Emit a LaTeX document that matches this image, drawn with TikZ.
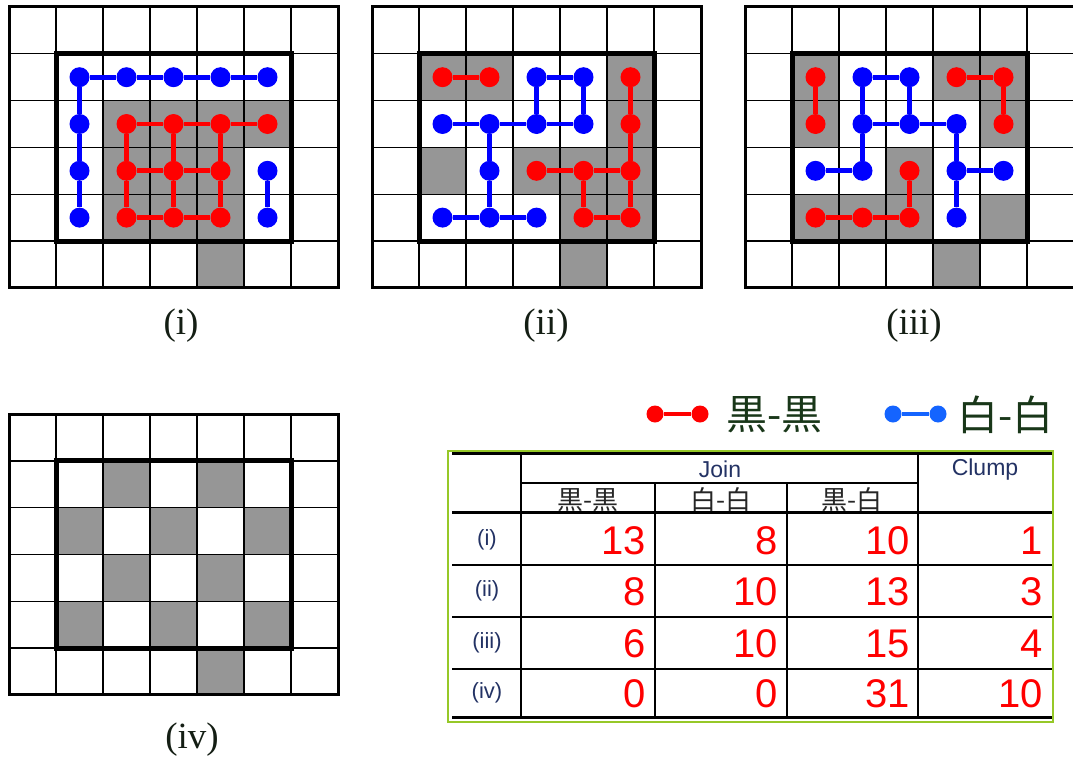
\documentclass[tikz,border=0pt]{standalone}
\usepackage{fontspec}
\setmainfont{Liberation Serif}
\newfontfamily\sansf{Liberation Sans}
\newfontfamily\cjkf{Noto Sans CJK JP}
\definecolor{cellgray}{RGB}{150,150,150}
\definecolor{dotred}{RGB}{255,0,0}
\definecolor{dotblue}{RGB}{0,0,255}
\definecolor{legblue}{RGB}{20,100,255}
\definecolor{legtext}{RGB}{25,55,25}
\definecolor{labtext}{RGB}{20,30,20}
\definecolor{navy}{RGB}{35,50,100}
\definecolor{tgreen}{RGB}{150,200,40}
\tikzset{
  rdot/.style={circle, fill=dotred, inner sep=0pt, minimum size=20pt},
  bdot/.style={circle, fill=dotblue, inner sep=0pt, minimum size=20pt},
  redge/.style={draw=dotred, line width=4.8pt},
  bedge/.style={draw=dotblue, line width=4.8pt},
  lrdot/.style={circle, fill=dotred, inner sep=0pt, minimum size=17pt},
  lbdot/.style={circle, fill=legblue, inner sep=0pt, minimum size=17pt},
  lredge/.style={draw=dotred, line width=4.5pt},
  lbedge/.style={draw=legblue, line width=4.5pt},
  gline/.style={line width=1.4pt},
  gouter/.style={line width=3pt},
  gbox/.style={line width=5pt},
  glabel/.style={font=\fontsize{37}{40}\selectfont, text=labtext, inner sep=0pt},
  legtxt/.style={font=\cjkf\fontsize{41}{46}\selectfont, text=legtext, inner sep=0pt, anchor=west},
  thin line/.style={line width=1.5pt},
  thick line/.style={line width=3pt},
  hdr/.style={font=\sansf\fontsize{23}{26}\selectfont, text=navy, inner sep=0pt},
  subhdr/.style={font=\cjkf\fontsize{26}{28}\selectfont, text=black!85, inner sep=0pt},
  rowlab/.style={font=\sansf\fontsize{22}{24}\selectfont, text=navy, inner sep=0pt},
  num/.style={font=\sansf\fontsize{40}{44}\selectfont, text=dotred, inner sep=0pt, anchor=east},
}
\newcommand\drawgrid[3]{%
  \begin{scope}[shift={(#1,#2)}, x=47pt, y=-46.8pt]
    \foreach \c/\r in {#3} \fill[cellgray] (\c,\r) rectangle ++(1,1);
    \foreach \i in {1,...,6} \draw[gline] (\i,0) -- (\i,6);
    \foreach \j in {1,...,5} \draw[gline] (0,\j) -- (7,\j);
    \draw[gouter] (0,0) rectangle (7,6);
    \draw[gbox] (1,1) rectangle (6,5);
  \end{scope}}
\newcommand\placedots[5]{% x0, y0, prefix, style, list
  \begin{scope}[shift={(#1,#2)}, x=47pt, y=-46.8pt]
    \foreach \c/\r in {#5} \node[#4] (#3\c\r) at (\c+0.5,\r+0.5) {};
  \end{scope}}
\newcommand\joinedges[3]{% prefix, style, list
  \foreach \a/\b in {#3} \draw[#2] (#1\a) -- (#1\b);}
\begin{document}
\begin{tikzpicture}[x=1pt, y=-1pt]
\useasboundingbox (0,0) rectangle (1073,760);
\fill[white] (0,0) rectangle (1073,760);

% ---- grid (i)
\drawgrid{9}{7}{2/2,3/2,4/2,5/2,2/3,3/3,4/3,2/4,3/4,4/4,4/5}
\placedots{9}{7}{A}{bdot}{1/1,2/1,3/1,4/1,5/1,1/2,1/3,1/4,5/3,5/4}
\placedots{9}{7}{A}{rdot}{2/2,3/2,4/2,5/2,2/3,3/3,4/3,2/4,3/4,4/4}
\joinedges{A}{bedge}{11/21,21/31,31/41,41/51,11/12,12/13,13/14,53/54}
\joinedges{A}{redge}{22/32,32/42,42/52,23/33,33/43,24/34,34/44,22/23,23/24,32/33,33/34,42/43,43/44}

% ---- grid (ii)
\drawgrid{372}{7}{1/1,2/1,5/1,5/2,1/3,3/3,4/3,5/3,4/4,5/4,4/5}
\placedots{372}{7}{B}{rdot}{1/1,2/1,5/1,5/2,3/3,4/3,5/3,4/4,5/4}
\placedots{372}{7}{B}{bdot}{3/1,4/1,1/2,2/2,3/2,4/2,2/3,1/4,2/4,3/4}
\joinedges{B}{bedge}{31/41,31/32,41/42,12/22,22/32,32/42,22/23,23/24,14/24,24/34}
\joinedges{B}{redge}{11/21,51/52,52/53,33/43,43/53,43/44,53/54,44/54}

% ---- grid (iii)
\drawgrid{745}{7}{1/1,4/1,5/1,1/2,5/2,3/3,1/4,2/4,3/4,5/4,4/5}
\placedots{745}{7}{C}{rdot}{1/1,4/1,5/1,1/2,5/2,3/3,1/4,2/4,3/4}
\placedots{745}{7}{C}{bdot}{2/1,3/1,2/2,3/2,4/2,1/3,2/3,4/3,5/3,4/4}
\joinedges{C}{redge}{11/12,41/51,51/52,33/34,14/24,24/34}
\joinedges{C}{bedge}{21/31,21/22,31/32,22/32,32/42,22/23,13/23,42/43,43/53,43/44}

% ---- grid (iv)
\drawgrid{9}{414}{2/1,4/1,1/2,3/2,5/2,2/3,4/3,1/4,3/4,5/4,4/5}

% ---- grid labels
\node[glabel] (labi) at (181,326) {(i)};
\node[glabel] (labii) at (546,326) {(ii)};
\node[glabel] (labiii) at (914,326) {(iii)};
\node[glabel] (labiv) at (192,740) {(iv)};

% ---- legend
\node[lrdot] (lr1) at (655,414) {};
\node[lrdot] (lr2) at (700,414) {};
\draw[lredge] (lr1) -- (lr2);
\node[legtxt] (lrt) at (726,415) {黒-黒};
\node[lbdot] (lb1) at (893,414) {};
\node[lbdot] (lb2) at (938,414) {};
\draw[lbedge] (lb1) -- (lb2);
\node[legtxt] (lbt) at (957,415) {白-白};

% ---- table
\draw[tgreen, line width=1.5pt] (448,451) rectangle (1053,722);
\draw[thick line] (452,453) -- (1052,453);
\draw[thin line] (521,483) -- (918,483);
\draw[thick line] (452,512) -- (1052,512);
\foreach \yy in {565,617,669} \draw[thin line] (452,\yy) -- (1052,\yy);
\draw[thick line] (452,717) -- (1052,717);
\draw[line width=2.2pt] (521,453) -- (521,717);
\draw[thin line] (655,483) -- (655,717);
\draw[thin line] (787,483) -- (787,717);
\draw[line width=2.2pt] (918,453) -- (918,717);

\node[hdr] (join) at (720,469) {Join};
\node[hdr] (clump) at (985,470) {Clump};
\node[subhdr] (h1) at (588,500) {黒-黒};
\node[subhdr] (h2) at (721,500) {白-白};
\node[subhdr] (h3) at (852,500) {黒-白};

\node[rowlab] (r1) at (487,540) {(i)};
\node[rowlab] (r2) at (487,591) {(ii)};
\node[rowlab] (r3) at (487,643) {(iii)};
\node[rowlab] (r4) at (487,693) {(iv)};

\node[num] (n11) at (646,541) {13};
\node[num] (n12) at (778,541) {8};
\node[num] (n13) at (910,541) {10};
\node[num] (n14) at (1043,541) {1};
\node[num] (n21) at (646,592) {8};
\node[num] (n22) at (778,592) {10};
\node[num] (n23) at (910,592) {13};
\node[num] (n24) at (1043,592) {3};
\node[num] (n31) at (646,644) {6};
\node[num] (n32) at (778,644) {10};
\node[num] (n33) at (910,644) {15};
\node[num] (n34) at (1043,644) {4};
\node[num] (n41) at (646,694) {0};
\node[num] (n42) at (778,694) {0};
\node[num] (n43) at (910,694) {31};
\node[num] (n44) at (1043,694) {10};
\end{tikzpicture}
\end{document}
